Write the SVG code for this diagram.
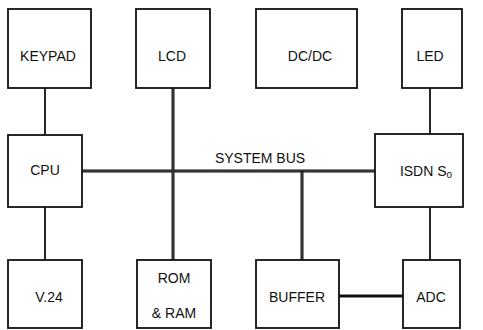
<svg xmlns="http://www.w3.org/2000/svg" width="483" height="330" viewBox="0 0 483 330">
<style>
.box{fill:#fff;stroke:#111;stroke-width:1.8}
.t{font-family:"Liberation Sans",Arial,sans-serif;font-size:14px;fill:#111;text-anchor:middle}
.ln{stroke:#111;stroke-width:1.8;fill:none}
.dbl{stroke:#111;stroke-width:3;fill:none}
.dblin{stroke:#777;stroke-width:0.7;fill:none}
</style>
<rect width="483" height="330" fill="#fff"/>
<g id="connectors">
<line class="ln" x1="45" y1="88" x2="45" y2="135"/>
<line class="ln" x1="45" y1="207" x2="45" y2="260"/>
<line class="ln" x1="430" y1="88" x2="430" y2="134"/>
<line class="ln" x1="430" y1="207" x2="430" y2="260"/>
<line class="dbl" x1="82" y1="171" x2="375" y2="171"/>
<line class="dblin" x1="82" y1="171" x2="375" y2="171"/>
<line class="dbl" x1="173" y1="88" x2="173" y2="260"/>
<line class="dblin" x1="173" y1="88" x2="173" y2="260"/>
<line class="dbl" x1="302" y1="171" x2="302" y2="260"/>
<line class="dblin" x1="302" y1="172" x2="302" y2="260"/>
<line class="ln" x1="339" y1="296" x2="403" y2="296" style="stroke-width:3"/>
</g>
<g id="keypad"><rect class="box" x="8" y="9" width="83" height="79"/><text class="t" x="48" y="61">KEYPAD</text></g>
<g id="lcd"><rect class="box" x="136" y="9" width="74" height="79"/><text class="t" x="172" y="61">LCD</text></g>
<g id="dcdc"><rect class="box" x="256" y="9" width="101" height="79"/><text class="t" x="310" y="61">DC/DC</text></g>
<g id="led"><rect class="box" x="402" y="9" width="60" height="79"/><text class="t" x="430" y="61">LED</text></g>
<g id="cpu"><rect class="box" x="8" y="135" width="74" height="72"/><text class="t" x="45" y="175">CPU</text></g>
<g id="isdn"><rect class="box" x="375" y="134" width="88" height="73"/><text class="t" x="426" y="176">ISDN S<tspan font-size="10" dy="2">o</tspan></text></g>
<text class="t" x="260" y="163">SYSTEM BUS</text>
<g id="v24"><rect class="box" x="8" y="260" width="74" height="68"/><text class="t" x="49" y="302">V.24</text></g>
<g id="romram"><rect class="box" x="137" y="260" width="74" height="68"/><text class="t" x="174" y="283">ROM</text><text class="t" x="174" y="318">&amp; RAM</text></g>
<g id="buffer"><rect class="box" x="256" y="260" width="83" height="68"/><text class="t" x="297" y="302">BUFFER</text></g>
<g id="adc"><rect class="box" x="403" y="260" width="57" height="68"/><text class="t" x="431" y="302">ADC</text></g>
</svg>
